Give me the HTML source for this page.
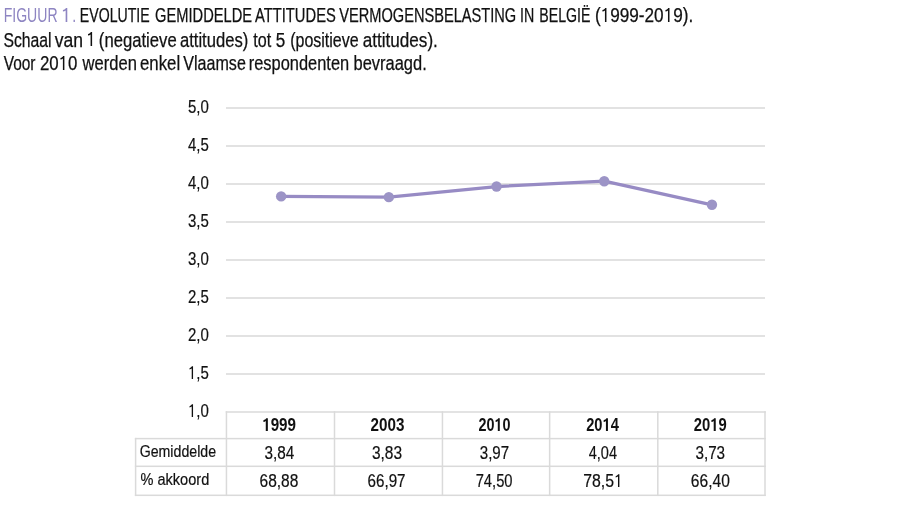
<!DOCTYPE html>
<html><head><meta charset="utf-8"><title>Figuur 1</title><style>
html,body{margin:0;padding:0;background:#fff;width:900px;height:508px;overflow:hidden}
svg{display:block;will-change:transform}
text{font-family:"Liberation Sans",sans-serif}
</style></head><body>
<svg width="900" height="508" viewBox="0 0 900 508">
<rect x="226" y="107.10" width="539" height="1.8" fill="#dfdfdf"/>
<rect x="226" y="145.10" width="539" height="1.8" fill="#dfdfdf"/>
<rect x="226" y="183.10" width="539" height="1.8" fill="#dfdfdf"/>
<rect x="226" y="221.10" width="539" height="1.8" fill="#dfdfdf"/>
<rect x="226" y="259.10" width="539" height="1.8" fill="#dfdfdf"/>
<rect x="226" y="297.10" width="539" height="1.8" fill="#dfdfdf"/>
<rect x="226" y="335.10" width="539" height="1.8" fill="#dfdfdf"/>
<rect x="226" y="373.10" width="539" height="1.8" fill="#dfdfdf"/>
<rect x="225.70" y="411.25" width="540.05" height="1.5" fill="#dadada"/>
<rect x="134.85" y="437.85" width="630.90" height="1.5" fill="#dadada"/>
<rect x="134.85" y="465.55" width="630.90" height="1.5" fill="#dadada"/>
<rect x="134.85" y="494.55" width="630.90" height="1.5" fill="#dadada"/>
<rect x="134.85" y="437.85" width="1.5" height="58.20" fill="#dadada"/>
<rect x="225.70" y="411.25" width="1.5" height="84.80" fill="#dadada"/>
<rect x="333.75" y="411.25" width="1.5" height="84.80" fill="#dadada"/>
<rect x="441.70" y="411.25" width="1.5" height="84.80" fill="#dadada"/>
<rect x="548.90" y="411.25" width="1.5" height="84.80" fill="#dadada"/>
<rect x="657.05" y="411.25" width="1.5" height="84.80" fill="#dadada"/>
<rect x="764.25" y="411.25" width="1.5" height="84.80" fill="#dadada"/>
<polyline points="281.15,196.41 388.85,197.17 496.55,186.53 604.25,181.21 711.95,204.77" fill="none" stroke="#978bc4" stroke-width="3.3" stroke-linejoin="round"/>
<circle cx="281.15" cy="196.41" r="5.2" fill="#9c94c6"/>
<circle cx="388.85" cy="197.17" r="5.2" fill="#9c94c6"/>
<circle cx="496.55" cy="186.53" r="5.2" fill="#9c94c6"/>
<circle cx="604.25" cy="181.21" r="5.2" fill="#9c94c6"/>
<circle cx="711.95" cy="204.77" r="5.2" fill="#9c94c6"/>
<text x="3.67" y="21.60" font-size="19.3" textLength="53.89" lengthAdjust="spacingAndGlyphs" fill="#8e85c2">FIGUUR</text>
<path transform="translate(60.98,22) scale(0.00905,-0.00990)" d="M515,0H696V1409H545C490,1320 380,1235 215,1205V1060C340,1075 440,1110 515,1165Z" fill="#8e85c2"/>
<text x="60.98" y="21.60" font-size="19.3" textLength="10.31" lengthAdjust="spacingAndGlyphs" fill="#8e85c2">&#x2007;</text>
<text x="72.17" y="21.60" font-size="19.3" textLength="3.93" lengthAdjust="spacingAndGlyphs" fill="#8e85c2">.</text>
<text x="79.87" y="21.60" font-size="19.3" textLength="69.81" lengthAdjust="spacingAndGlyphs" fill="#111111" stroke="#111111" stroke-width="0.25">EVOLUTIE</text>
<text x="155.04" y="21.60" font-size="19.3" textLength="97.04" lengthAdjust="spacingAndGlyphs" fill="#111111" stroke="#111111" stroke-width="0.25">GEMIDDELDE</text>
<text x="255.00" y="21.60" font-size="19.3" textLength="80.84" lengthAdjust="spacingAndGlyphs" fill="#111111" stroke="#111111" stroke-width="0.25">ATTITUDES</text>
<text x="339.20" y="21.60" font-size="19.3" textLength="177.00" lengthAdjust="spacingAndGlyphs" fill="#111111" stroke="#111111" stroke-width="0.25">VERMOGENSBELASTING</text>
<text x="520.06" y="21.60" font-size="19.3" textLength="14.18" lengthAdjust="spacingAndGlyphs" fill="#111111" stroke="#111111" stroke-width="0.25">IN</text>
<text x="539.26" y="21.60" font-size="19.3" textLength="51.23" lengthAdjust="spacingAndGlyphs" fill="#111111" stroke="#111111" stroke-width="0.25">BELGIË</text>
<path transform="translate(600.62,22) scale(0.00839,-0.00990)" d="M515,0H696V1409H545C490,1320 380,1235 215,1205V1060C340,1075 440,1110 515,1165Z" fill="#111111" stroke="#111111" stroke-width="0.25"/>
<path transform="translate(663.65,22) scale(0.00839,-0.00990)" d="M515,0H696V1409H545C490,1320 380,1235 215,1205V1060C340,1075 440,1110 515,1165Z" fill="#111111" stroke="#111111" stroke-width="0.25"/>
<text x="594.91" y="21.60" font-size="19.3" textLength="98.34" lengthAdjust="spacingAndGlyphs" fill="#111111" stroke="#111111" stroke-width="0.25">(&#x2007;999-20&#x2007;9).</text>
<text x="3.38" y="46.50" font-size="19.3" textLength="48.21" lengthAdjust="spacingAndGlyphs" fill="#111111" stroke="#111111" stroke-width="0.25">Schaal</text>
<text x="54.70" y="46.50" font-size="19.3" textLength="28.30" lengthAdjust="spacingAndGlyphs" fill="#111111" stroke="#111111" stroke-width="0.25">van</text>
<path transform="translate(86.20,46) scale(0.00848,-0.00990)" d="M515,0H696V1409H545C490,1320 380,1235 215,1205V1060C340,1075 440,1110 515,1165Z" fill="#111111" stroke="#111111" stroke-width="0.25"/>
<text x="86.20" y="46.50" font-size="19.3" textLength="9.66" lengthAdjust="spacingAndGlyphs" fill="#111111" stroke="#111111" stroke-width="0.25">&#x2007;</text>
<text x="98.84" y="46.50" font-size="19.3" textLength="77.87" lengthAdjust="spacingAndGlyphs" fill="#111111" stroke="#111111" stroke-width="0.25">(negatieve</text>
<text x="179.94" y="46.50" font-size="19.3" textLength="68.33" lengthAdjust="spacingAndGlyphs" fill="#111111" stroke="#111111" stroke-width="0.25">attitudes)</text>
<text x="253.30" y="46.50" font-size="19.3" textLength="17.93" lengthAdjust="spacingAndGlyphs" fill="#111111" stroke="#111111" stroke-width="0.25">tot</text>
<text x="275.81" y="46.50" font-size="19.3" textLength="9.54" lengthAdjust="spacingAndGlyphs" fill="#111111" stroke="#111111" stroke-width="0.25">5</text>
<text x="290.17" y="46.50" font-size="19.3" textLength="68.47" lengthAdjust="spacingAndGlyphs" fill="#111111" stroke="#111111" stroke-width="0.25">(positieve</text>
<text x="362.71" y="46.50" font-size="19.3" textLength="75.17" lengthAdjust="spacingAndGlyphs" fill="#111111" stroke="#111111" stroke-width="0.25">attitudes).</text>
<text x="3.70" y="70.00" font-size="19.3" textLength="31.84" lengthAdjust="spacingAndGlyphs" fill="#111111" stroke="#111111" stroke-width="0.25">Voor</text>
<path transform="translate(58.66,70) scale(0.00823,-0.00990)" d="M515,0H696V1409H545C490,1320 380,1235 215,1205V1060C340,1075 440,1110 515,1165Z" fill="#111111" stroke="#111111" stroke-width="0.25"/>
<text x="39.93" y="70.00" font-size="19.3" textLength="37.49" lengthAdjust="spacingAndGlyphs" fill="#111111" stroke="#111111" stroke-width="0.25">20&#x2007;0</text>
<text x="82.50" y="70.00" font-size="19.3" textLength="54.37" lengthAdjust="spacingAndGlyphs" fill="#111111" stroke="#111111" stroke-width="0.25">werden</text>
<text x="139.93" y="70.00" font-size="19.3" textLength="40.24" lengthAdjust="spacingAndGlyphs" fill="#111111" stroke="#111111" stroke-width="0.25">enkel</text>
<text x="183.30" y="70.00" font-size="19.3" textLength="62.56" lengthAdjust="spacingAndGlyphs" fill="#111111" stroke="#111111" stroke-width="0.25">Vlaamse</text>
<text x="248.75" y="70.00" font-size="19.3" textLength="100.45" lengthAdjust="spacingAndGlyphs" fill="#111111" stroke="#111111" stroke-width="0.25">respondenten</text>
<text x="353.55" y="70.00" font-size="19.3" textLength="73.21" lengthAdjust="spacingAndGlyphs" fill="#111111" stroke="#111111" stroke-width="0.25">bevraagd.</text>
<text x="187.95" y="113.00" font-size="17.6" textLength="20.85" lengthAdjust="spacingAndGlyphs" fill="#111111" stroke="#111111" stroke-width="0.2">5,0</text>
<text x="187.95" y="151.00" font-size="17.6" textLength="20.85" lengthAdjust="spacingAndGlyphs" fill="#111111" stroke="#111111" stroke-width="0.2">4,5</text>
<text x="187.95" y="189.00" font-size="17.6" textLength="20.85" lengthAdjust="spacingAndGlyphs" fill="#111111" stroke="#111111" stroke-width="0.2">4,0</text>
<text x="187.95" y="227.00" font-size="17.6" textLength="20.85" lengthAdjust="spacingAndGlyphs" fill="#111111" stroke="#111111" stroke-width="0.2">3,5</text>
<text x="187.95" y="265.00" font-size="17.6" textLength="20.85" lengthAdjust="spacingAndGlyphs" fill="#111111" stroke="#111111" stroke-width="0.2">3,0</text>
<text x="187.95" y="303.00" font-size="17.6" textLength="20.85" lengthAdjust="spacingAndGlyphs" fill="#111111" stroke="#111111" stroke-width="0.2">2,5</text>
<text x="187.95" y="341.00" font-size="17.6" textLength="20.85" lengthAdjust="spacingAndGlyphs" fill="#111111" stroke="#111111" stroke-width="0.2">2,0</text>
<path transform="translate(187.95,379) scale(0.00732,-0.00902)" d="M515,0H696V1409H545C490,1320 380,1235 215,1205V1060C340,1075 440,1110 515,1165Z" fill="#111111" stroke="#111111" stroke-width="0.2"/>
<text x="187.95" y="379.00" font-size="17.6" textLength="20.85" lengthAdjust="spacingAndGlyphs" fill="#111111" stroke="#111111" stroke-width="0.2">&#x2007;,5</text>
<path transform="translate(187.95,417) scale(0.00732,-0.00902)" d="M515,0H696V1409H545C490,1320 380,1235 215,1205V1060C340,1075 440,1110 515,1165Z" fill="#111111" stroke="#111111" stroke-width="0.2"/>
<text x="187.95" y="417.00" font-size="17.6" textLength="20.85" lengthAdjust="spacingAndGlyphs" fill="#111111" stroke="#111111" stroke-width="0.2">&#x2007;,0</text>
<path transform="translate(262.23,431) scale(0.00742,-0.00897)" d="M478,0H759V1409H530C470,1310 350,1230 160,1195V1000C290,1010 400,1050 478,1110Z" fill="#111111"/>
<text x="262.23" y="430.70" font-size="17.5" font-weight="bold" textLength="33.81" lengthAdjust="spacingAndGlyphs" fill="#111111">&#x2007;999</text>
<text x="264.43" y="459.00" font-size="17.6" textLength="29.79" lengthAdjust="spacingAndGlyphs" fill="#111111" stroke="#111111" stroke-width="0.2">3,84</text>
<text x="259.52" y="487.00" font-size="17.6" textLength="38.81" lengthAdjust="spacingAndGlyphs" fill="#111111" stroke="#111111" stroke-width="0.2">68,88</text>
<text x="370.50" y="430.70" font-size="17.5" font-weight="bold" textLength="33.85" lengthAdjust="spacingAndGlyphs" fill="#111111">2003</text>
<text x="371.92" y="459.00" font-size="17.6" textLength="30.20" lengthAdjust="spacingAndGlyphs" fill="#111111" stroke="#111111" stroke-width="0.2">3,83</text>
<text x="367.54" y="487.00" font-size="17.6" textLength="37.99" lengthAdjust="spacingAndGlyphs" fill="#111111" stroke="#111111" stroke-width="0.2">66,97</text>
<path transform="translate(494.46,431) scale(0.00701,-0.00897)" d="M478,0H759V1409H530C470,1310 350,1230 160,1195V1000C290,1010 400,1050 478,1110Z" fill="#111111"/>
<text x="478.50" y="430.70" font-size="17.5" font-weight="bold" textLength="31.95" lengthAdjust="spacingAndGlyphs" fill="#111111">20&#x2007;0</text>
<text x="479.74" y="459.00" font-size="17.6" textLength="29.37" lengthAdjust="spacingAndGlyphs" fill="#111111" stroke="#111111" stroke-width="0.2">3,97</text>
<text x="475.66" y="487.00" font-size="17.6" textLength="36.86" lengthAdjust="spacingAndGlyphs" fill="#111111" stroke="#111111" stroke-width="0.2">74,50</text>
<path transform="translate(602.51,431) scale(0.00716,-0.00897)" d="M478,0H759V1409H530C470,1310 350,1230 160,1195V1000C290,1010 400,1050 478,1110Z" fill="#111111"/>
<text x="586.20" y="430.70" font-size="17.5" font-weight="bold" textLength="32.65" lengthAdjust="spacingAndGlyphs" fill="#111111">20&#x2007;4</text>
<text x="588.70" y="459.00" font-size="17.6" textLength="28.31" lengthAdjust="spacingAndGlyphs" fill="#111111" stroke="#111111" stroke-width="0.2">4,04</text>
<path transform="translate(614.01,487) scale(0.00773,-0.00902)" d="M515,0H696V1409H545C490,1320 380,1235 215,1205V1060C340,1075 440,1110 515,1165Z" fill="#111111" stroke="#111111" stroke-width="0.2"/>
<text x="583.20" y="487.00" font-size="17.6" textLength="39.63" lengthAdjust="spacingAndGlyphs" fill="#111111" stroke="#111111" stroke-width="0.2">78,5&#x2007;</text>
<path transform="translate(710.26,431) scale(0.00723,-0.00897)" d="M478,0H759V1409H530C470,1310 350,1230 160,1195V1000C290,1010 400,1050 478,1110Z" fill="#111111"/>
<text x="693.80" y="430.70" font-size="17.5" font-weight="bold" textLength="32.95" lengthAdjust="spacingAndGlyphs" fill="#111111">20&#x2007;9</text>
<text x="695.43" y="459.00" font-size="17.6" textLength="29.68" lengthAdjust="spacingAndGlyphs" fill="#111111" stroke="#111111" stroke-width="0.2">3,73</text>
<text x="690.81" y="487.00" font-size="17.6" textLength="39.01" lengthAdjust="spacingAndGlyphs" fill="#111111" stroke="#111111" stroke-width="0.2">66,40</text>
<text x="139.67" y="457.00" font-size="17.0" textLength="76.39" lengthAdjust="spacingAndGlyphs" fill="#111111" stroke="#111111" stroke-width="0.2">Gemiddelde</text>
<text x="140.50" y="485.00" font-size="17.0" textLength="68.74" lengthAdjust="spacingAndGlyphs" fill="#111111" stroke="#111111" stroke-width="0.2">% akkoord</text>
</svg>
</body></html>
